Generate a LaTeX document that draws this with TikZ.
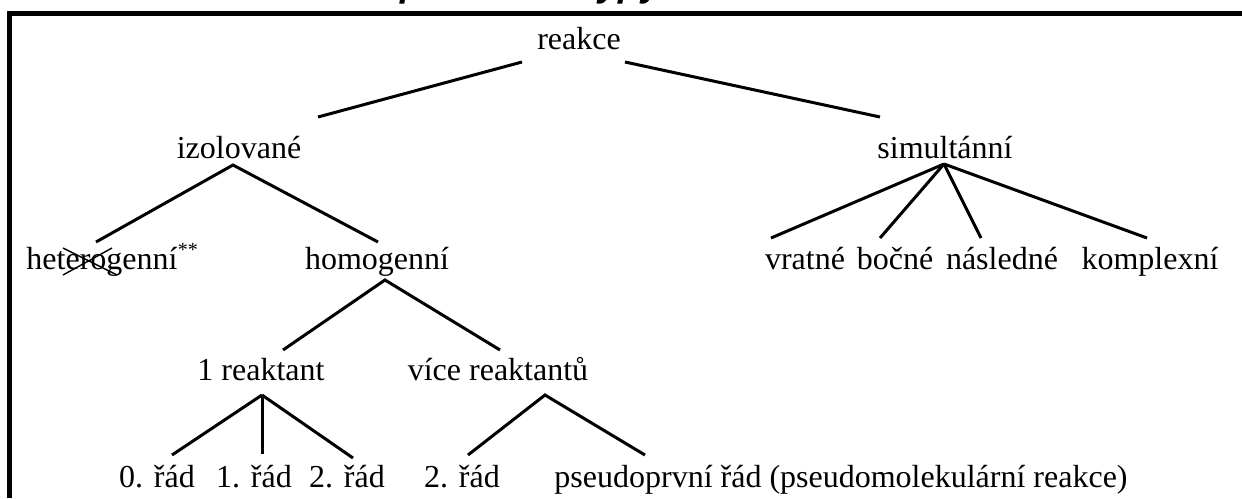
\documentclass[tikz,border=0pt]{standalone}
\usepackage{fontspec}
\setmainfont{Liberation Serif}
\newfontfamily\titlefont{Liberation Sans}
\begin{document}
\begin{tikzpicture}[x=1pt,y=-1pt,
  lbl/.style={inner sep=0pt, anchor=base, font=\fontsize{32}{38}\selectfont},
  ttl/.style={inner sep=0pt, anchor=base west, font=\titlefont\bfseries\itshape\fontsize{37}{44}\selectfont},
  edge/.style={line width=3pt},
  strike/.style={line width=1.4pt},
  frame/.style={line width=5.5pt, line join=miter}]
\useasboundingbox (0,0) rectangle (1242,498);
% cut-off title fragments
\begin{scope}
  \clip (0,0) rectangle (1242,10.5);
  \node[ttl] (tA) at (400,-4) {p};
  \node[ttl] (tB) at (598,-4) {ypy};
\end{scope}
% frame
\draw[frame] (1242,13.5) -- (9.5,13.5) -- (9.5,498);
% nodes
\node[lbl] (reakce) at (579,49) {reakce};
\node[lbl] (izol) at (239,158) {izolované};
\node[lbl] (simul) at (945,158) {simultánní};
\node[lbl] (hetero) at (102,269) {heterogenní};
\node[inner sep=0pt, anchor=base west, font=\fontsize{20}{24}\selectfont] (ast) at (hetero.base east) [yshift=13pt] {**};
\node[lbl] (homo) at (377,269) {homogenní};
\node[lbl] (vrat) at (805,269) {vratné};
\node[lbl] (bocn) at (895,269) {bočné};
\node[lbl] (nasl) at (1002,269) {následné};
\node[lbl] (kompl) at (1150,269) {komplexní};
\node[lbl] (jeden) at (261,380) {1 reaktant};
\node[lbl] (vice) at (498,380) {více reaktantů};
\node[lbl] (r0) at (157,487) {0. řád};
\node[lbl] (r1) at (254,487) {1. řád};
\node[lbl] (r2) at (347,487) {2. řád};
\node[lbl] (r2b) at (462,487) {2. řád};
\node[lbl] (pseudo) at (841,487) {pseudoprvní řád (pseudomolekulární reakce)};
% connectors
\draw[edge] ([shift={(-57,13)}]reakce.base) -- ([shift={(79,-41)}]izol.base);
\draw[edge] ([shift={(46,13)}]reakce.base) -- ([shift={(-65,-41)}]simul.base);
\draw[edge] ([shift={(-6,-27)}]hetero.base) -- ([shift={(-6,7)}]izol.base) -- ([shift={(1,-27)}]homo.base);
\draw[edge] ([shift={(-1,6)}]simul.base) -- ([shift={(-34,-31)}]vrat.base);
\draw[edge] ([shift={(-1,6)}]simul.base) -- ([shift={(-15,-31)}]bocn.base);
\draw[edge] ([shift={(-1,6)}]simul.base) -- ([shift={(-21,-31)}]nasl.base);
\draw[edge] ([shift={(-1,6)}]simul.base) -- ([shift={(-3,-31)}]kompl.base);
\draw[edge] ([shift={(22,-30)}]jeden.base) -- ([shift={(8,11)}]homo.base) -- ([shift={(2,-30)}]vice.base);
\draw[edge] ([shift={(1,15)}]jeden.base) -- ([shift={(15,-32)}]r0.base);
\draw[edge] ([shift={(1,15)}]jeden.base) -- ([shift={(8,-33)}]r1.base);
\draw[edge] ([shift={(1,15)}]jeden.base) -- ([shift={(6,-29)}]r2.base);
\draw[edge] ([shift={(6,-32)}]r2b.base) -- ([shift={(47,15)}]vice.base) -- ([shift={(-196,-32)}]pseudo.base);
% strike-through cross on heterogenni
\draw[strike] ([shift={(-39,-21)}]hetero.base) -- ([shift={(15,6)}]hetero.base);
\draw[strike] ([shift={(-39,6)}]hetero.base) -- ([shift={(10,-21)}]hetero.base);
\end{tikzpicture}
\end{document}
